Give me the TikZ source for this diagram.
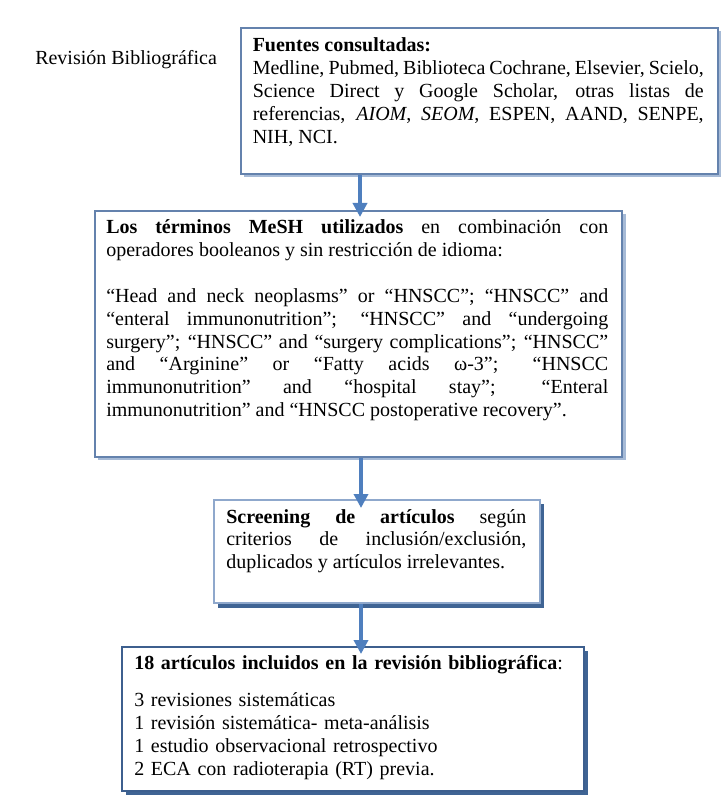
\documentclass[tikz,border=0pt]{standalone}
\usepackage{fontspec}
\setmainfont{Liberation Serif}
\usetikzlibrary{arrows.meta,shadows,calc}
\definecolor{borderA}{HTML}{6482AD}
\definecolor{borderB}{HTML}{8FA8CC}
\definecolor{borderC}{HTML}{3D5F8E}
\definecolor{shadowLight}{HTML}{A6BAD6}
\definecolor{shadowDark}{HTML}{3F6494}
\definecolor{arrowblue}{HTML}{4F7FBE}
\begin{document}
\begin{tikzpicture}[x=0.75pt,y=-0.75pt,
  boxbase/.style={rectangle, inner sep=0pt, line width=1.2pt, fill=white, anchor=north west},
  boxlight/.style={boxbase, draw=borderA, drop shadow={shadow xshift=2.6pt, shadow yshift=-2.6pt, fill=shadowLight, opacity=1}},
  boxmid/.style={boxbase, draw=borderB, drop shadow={shadow xshift=3.2pt, shadow yshift=-3.2pt, fill=shadowDark, opacity=1}},
  boxdark/.style={boxbase, draw=borderC, drop shadow={shadow xshift=3.2pt, shadow yshift=-3.2pt, fill=shadowDark, opacity=1}},
  txt/.style={anchor=base west, inner sep=0pt, align=justify, font=\fontsize{15}{17.1}\selectfont},
  arr/.style={draw=arrowblue, line width=3.6pt, -{Triangle[width=10.5pt,length=10.5pt]}}
]
\useasboundingbox (0,0) rectangle (724,798);

\node[anchor=base west, inner sep=0pt, font=\fontsize{15}{17.1}\selectfont] (rev) at (35,65) {Revisión Bibliográfica};

\node[boxlight, minimum width=357.75pt, minimum height=109.5pt] (b1) at (240,27) {};
\node[boxlight, minimum width=395.6pt, minimum height=184.5pt] (b2) at (94,210) {};
\node[boxmid, minimum width=244.5pt, minimum height=77.6pt] (b3) at (213,499) {};
\node[boxdark, minimum width=346.5pt, minimum height=108pt] (b4) at (121,646) {};

\node[txt, text width=338.25pt] (t1) at (252.5,52) {\tolerance=10000\hyphenpenalty=10000
\textbf{Fuentes consultadas:}\par
Medline, Pubmed, Biblioteca Cochrane, Elsevier, Scielo,\linebreak
Science Direct y Google Scholar, otras listas de\linebreak
referencias, \textit{AIOM}, \textit{SEOM}, ESPEN, AAND, SENPE,\linebreak
NIH, NCI.};

\node[txt, text width=376.5pt] (t2) at (106,234) {\tolerance=10000\hyphenpenalty=10000
\textbf{Los términos MeSH utilizados} en combinación con\linebreak
operadores booleanos y sin restricción de idioma:\par\vspace{17.1pt}
“Head and neck neoplasms” or “HNSCC”; “HNSCC” and\linebreak
“enteral immunonutrition”; “HNSCC” and “undergoing\linebreak
surgery”; “HNSCC” and “surgery complications”; “HNSCC”\linebreak
and “Arginine” or “Fatty acids ω-3”; “HNSCC\linebreak
immunonutrition” and “hospital stay”; “Enteral\linebreak
immunonutrition” and “HNSCC postoperative recovery”.};

\node[txt, text width=225pt] (t3) at (226,523) {\tolerance=10000\hyphenpenalty=10000
\textbf{Screening de artículos} según\linebreak
criterios de inclusión/exclusión,\linebreak
duplicados y artículos irrelevantes.};

\node[txt, text width=330pt, align=left] (t4) at (134,669) {\textbf{18 artículos incluidos en la revisión bibliográfica}:\par\vspace{11.2pt}
3 revisiones sistemáticas\par
1 revisión sistemática- meta-análisis\par
1 estudio observacional retrospectivo\par
2 ECA con radioterapia (RT) previa.};

\coordinate (ax1) at (360,0);
\coordinate (ax2) at (361,0);
\draw[arr] (b1.south -| ax1) -- ($(b2.north -| ax1)+(0,7)$);
\draw[arr] (b2.south -| ax2) -- ($(b3.north -| ax2)+(0,9)$);
\draw[arr] (b3.south -| ax2) -- ($(b4.north -| ax2)+(0,8)$);
\end{tikzpicture}
\end{document}
